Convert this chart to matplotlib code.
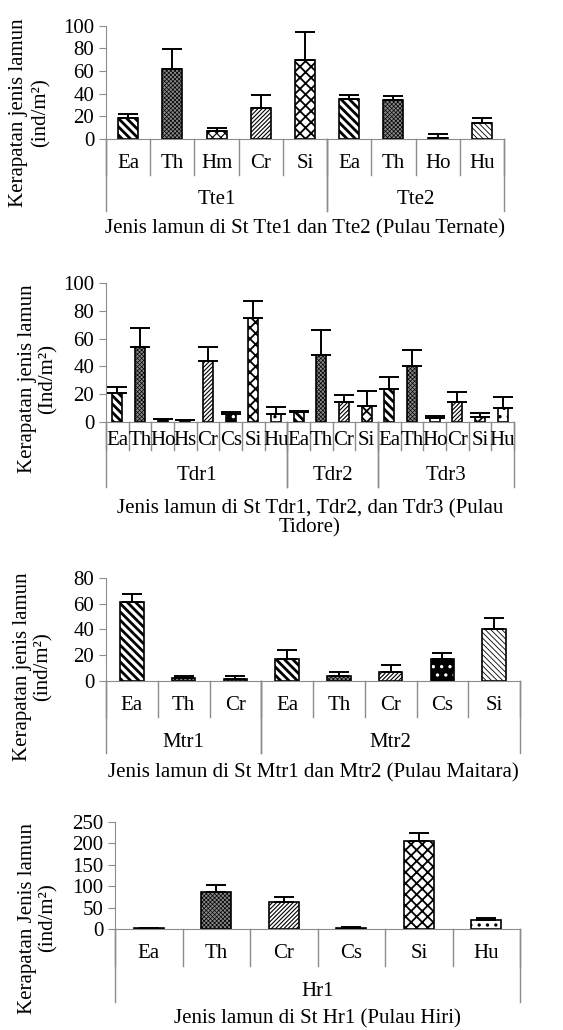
import numpy as np
import matplotlib
matplotlib.use('Agg')
import matplotlib.pyplot as plt

# data (density, ind/m2) and upper error bars
tte_groups = ['Tte1', 'Tte2']
tte_species = [['Ea', 'Th', 'Hm', 'Cr', 'Si'], ['Ea', 'Th', 'Ho', 'Hu']]
tte_values = [18.5, 62, 7.4, 27, 69.5, 35.5, 34.2, 1.3, 14.5]
tte_err = [3.5, 17.5, 2.3, 12, 24.5, 3.5, 3.4, 3.4, 3.7]

tdr_groups = ['Tdr1', 'Tdr2', 'Tdr3']
tdr_species = [['Ea', 'Th', 'Ho', 'Hs', 'Cr', 'Cs', 'Si', 'Hu'],
               ['Ea', 'Th', 'Cr', 'Si'],
               ['Ea', 'Th', 'Ho', 'Cr', 'Si', 'Hu']]
tdr_values = [21, 54, 1.9, 1, 44, 5.3, 75, 5.3, 7, 48, 14.2, 11.3, 23.4, 40, 2.4, 14.2, 3.4, 10]
tdr_err = [4, 14, 0, 0, 10, 1.9, 12, 5.1, 0.5, 18, 4.8, 10.7, 8.6, 12, 1.7, 7, 2.6, 8]

mtr_groups = ['Mtr1', 'Mtr2']
mtr_species = [['Ea', 'Th', 'Cr'], ['Ea', 'Th', 'Cr', 'Cs', 'Si']]
mtr_values = [61, 2.3, 1.3, 16.7, 3.6, 6.8, 16.6, 40.4]
mtr_err = [6.5, 1.1, 2.1, 7.3, 3.2, 5, 5.2, 8.3]

hr_groups = ['Hr1']
hr_species = [['Ea', 'Th', 'Cr', 'Cs', 'Si', 'Hu']]
hr_values = [3.2, 86.5, 64, 3.2, 205, 22]
hr_err = [0, 15.5, 9.5, 2.3, 19.5, 3]

FW, FH = 563, 1030
plt.rcParams['font.family'] = ['Liberation Serif', 'DejaVu Serif']
plt.rcParams['font.size'] = 15

# bar fill styles per species
styles = {
    'Ea': dict(fc='white', hatch='\\\\\\\\', hlw=2.0),
    'Th': dict(fc='#8a8a8a', hatch='xxxxxxxx', hlw=0.5),
    'Hm': dict(fc='white', hatch='xxxx', hlw=0.8),
    'Cr': dict(fc='white', hatch='////////', hlw=0.8),
    'Si': dict(fc='white', hatch='xxx', hlw=1.3),
    'Ho': dict(fc='black', hatch=None, hlw=1),
    'Hs': dict(fc='black', hatch=None, hlw=1),
    'Cs': dict(fc='black', hatch='..', hlw=1.2, hc='white'),
    'Hu': dict(fc='white', hatch='..', hlw=1.2),
}
light_diag = dict(fc='white', hatch='\\\\\\\\\\\\', hlw=0.6)
white_dots = dict(fc='white', hatch='..', hlw=1.0)

gray = '#8c8c8c'


def draw_panel(rect, groups, species, values, err, ymax, ystep,
               xlabel, offs, override=None):
    ax = fig.add_axes([rect[0] / FW, 1 - rect[3] / FH,
                       (rect[2] - rect[0]) / FW, (rect[3] - rect[1]) / FH])
    flat = [s for g in species for s in g]
    x = np.arange(len(flat))
    for i, sp in enumerate(flat):
        st = styles[sp]
        if override and (i, sp) in override:
            st = override[(i, sp)]
        elif override and sp in override:
            st = override[sp]
        with plt.rc_context({'hatch.linewidth': st['hlw']}):
            if 'hc' in st:
                ax.bar(x[i], values[i], 0.45, color=st['fc'], edgecolor=st['hc'],
                       hatch=st['hatch'], linewidth=0, zorder=2)
                ax.bar(x[i], values[i], 0.45, fill=False, edgecolor='black',
                       linewidth=1.2, zorder=3)
            else:
                ax.bar(x[i], values[i], 0.45, color=st['fc'], edgecolor='black',
                       hatch=st['hatch'], linewidth=1.2, zorder=2)
    ax.errorbar(x, values, yerr=[np.zeros(len(x)), err], fmt='none', ecolor='black',
                elinewidth=1.4, capsize=7, capthick=1.4, zorder=4)
    ax.set_xlim(-0.5, len(flat) - 0.5)
    ax.set_ylim(0, ymax)
    ax.set_yticks(np.arange(0, ymax + 1, ystep))
    ax.set_xticks([])
    for s in ['top', 'right']:
        ax.spines[s].set_visible(False)
    for s in ['left', 'bottom']:
        ax.spines[s].set_color(gray)
    ax.tick_params(axis='y', colors=gray, labelcolor='black', length=5, labelsize=15)

    hpx = rect[3] - rect[1]
    tr = ax.get_xaxis_transform()
    cat_off, short_off, grp_off, long_off, xl_off = offs
    for i, sp in enumerate(flat):
        ax.text(i, -cat_off / hpx, sp, ha='center', va='center', transform=tr)
    for i in range(len(flat) + 1):
        ax.plot([i - 0.5, i - 0.5], [0, -short_off / hpx], color=gray, lw=1,
                transform=tr, clip_on=False)
    start = 0
    for g, sl in zip(groups, species):
        end = start + len(sl)
        ax.text((start + end - 1) / 2, -grp_off / hpx, g, ha='center', va='center',
                transform=tr)
        for b in (start, end):
            ax.plot([b - 0.5, b - 0.5], [0, -long_off / hpx], color=gray, lw=1,
                    transform=tr, clip_on=False)
        start = end
    cx = (rect[0] + rect[2]) / 2
    fig.text(cx / FW, 1 - (rect[3] + xl_off) / FH, xlabel, ha='center', va='center',
             linespacing=1.0)
    return ax


fig = plt.figure(figsize=(FW / 100, FH / 100), dpi=100)

draw_panel((106, 25.7, 504, 139), tte_groups, tte_species, tte_values, tte_err,
           100, 20, 'Jenis lamun di St Tte1 dan Tte2 (Pulau Ternate)',
           (24, 36, 61, 72, 90), override={'Hu': light_diag})
fig.text(30 / FW, 1 - 113 / FH, 'Kerapatan jenis lamun\n(ind/m²)', rotation=90,
         ha='center', va='center', linespacing=1.25)

draw_panel((106, 283.3, 514, 421.7), tdr_groups, tdr_species, tdr_values, tdr_err,
           100, 20, 'Jenis lamun di St Tdr1, Tdr2, dan Tdr3 (Pulau\nTidore)',
           (19, 28, 54, 65, 97), override={(14, 'Ho'): white_dots})
fig.text(38 / FW, 1 - 379 / FH, 'Kerapatan jenis lamun\n(Ind/m²)', rotation=90,
         ha='center', va='center', linespacing=1.1)

draw_panel((106, 578, 520, 680.5), mtr_groups, mtr_species, mtr_values, mtr_err,
           80, 20, 'Jenis lamun di St Mtr1 dan Mtr2 (Pulau Maitara)',
           (24.5, 36.5, 62, 72.5, 92), override={'Si': light_diag})
fig.text(33 / FW, 1 - 667 / FH, 'Kerapatan jenis lamun\n(ind/m²)', rotation=90,
         ha='center', va='center', linespacing=1.1)

draw_panel((115, 821.7, 520, 929), hr_groups, hr_species, hr_values, hr_err,
           250, 50, 'Jenis lamun di St Hr1 (Pulau Hiri)',
           (24, 37, 62, 73, 90))
fig.text(38 / FW, 1 - 918 / FH, 'Kerapatan Jenis lamun\n(ind/m²)', rotation=90,
         ha='center', va='center', linespacing=1.1)

plt.savefig('out.png', dpi=100)
